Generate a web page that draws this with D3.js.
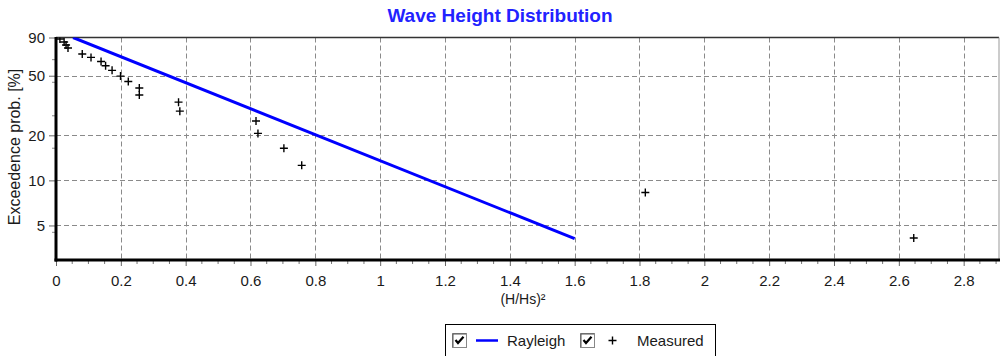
<!DOCTYPE html>
<html>
<head>
<meta charset="utf-8">
<script src="https://cdn.jsdelivr.net/npm/d3@7"></script>
<style>
  html, body { margin: 0; padding: 0; background: #fff; }
  svg { display: block; font-family: "Liberation Sans", Arial, sans-serif; }
</style>
</head>
<body>
<svg id="chart" width="1000" height="356"></svg>
<script>
// Measured exceedance points: x = (H/Hs)^2, y = exceedance probability [%]
const measuredX = [0.012, 0.025, 0.031, 0.037, 0.081, 0.108, 0.139, 0.153, 0.173, 0.199,
                   0.223, 0.257, 0.257, 0.378, 0.382, 0.617, 0.623, 0.703, 0.758, 1.818, 2.646];
const measuredP = [87.9, 84.0, 80.2, 76.6, 69.8, 66.3, 62.2, 58.3, 54.3, 49.7,
                   45.7, 41.4, 37.2, 33.3, 29.0, 24.9, 20.6, 16.4, 12.6, 8.3, 4.12];

// Rayleigh reference line (straight on the log-probability axis)
const rayleighX = [0.0527, 1.6];
const rayleighP = [90, 4.08];

// Axis ticks
const xTicks = [0, 0.2, 0.4, 0.6, 0.8, 1, 1.2, 1.4, 1.6, 1.8, 2, 2.2, 2.4, 2.6, 2.8];
const yTicks = [90, 50, 20, 10, 5];
const yMinorTicks = [64, 45.2, 27, 16.4, 4.5];

const svg = d3.select("#chart");
const plotL = 56, plotR = 999, plotT = 37.5, plotB = 260;

const x = d3.scaleLinear().domain([0, 2.909]).range([plotL, plotR]);
const y = d3.scaleLog().domain([2.94, 90]).range([plotB, plotT]);

// Title
svg.append("text")
  .attr("x", 500).attr("y", 22)
  .attr("text-anchor", "middle")
  .attr("font-size", 19).attr("font-weight", "bold")
  .attr("fill", "#2222ff")
  .text("Wave Height Distribution");

// Grid
const grid = svg.append("g").attr("stroke", "#8a8a8a").attr("stroke-width", 1)
  .attr("stroke-dasharray", "5,3");
grid.selectAll("line.v").data(xTicks.filter(d => d > 0)).join("line")
  .attr("x1", d => Math.round(x(d)) + 0.5).attr("x2", d => Math.round(x(d)) + 0.5)
  .attr("y1", plotT).attr("y2", plotB);
grid.selectAll("line.h").data(yTicks.filter(d => d < 90)).join("line")
  .attr("x1", plotL).attr("x2", plotR)
  .attr("y1", d => Math.round(y(d)) + 0.5).attr("y2", d => Math.round(y(d)) + 0.5);

// Frame: thin top/right border
svg.append("line").attr("x1", plotL).attr("x2", plotR).attr("y1", plotT).attr("y2", plotT)
  .attr("stroke", "#333").attr("stroke-width", 1.5);
svg.append("line").attr("x1", plotR).attr("x2", plotR).attr("y1", plotT).attr("y2", plotB)
  .attr("stroke", "#999").attr("stroke-width", 1);

// Clip for plot marks
svg.append("clipPath").attr("id", "plotClip").append("rect")
  .attr("x", plotL).attr("y", plotT).attr("width", plotR - plotL).attr("height", plotB - plotT);

// Rayleigh line
const pts = rayleighX.map((d, i) => [d, rayleighP[i]]);
svg.append("path")
  .attr("clip-path", "url(#plotClip)")
  .attr("d", d3.line().x(d => x(d[0])).y(d => y(d[1]))(pts))
  .attr("fill", "none").attr("stroke", "#0000ff").attr("stroke-width", 3);

// Measured points as "+" markers
const meas = measuredX.map((d, i) => [d, measuredP[i]]);
svg.append("g").attr("clip-path", "url(#plotClip)")
  .selectAll("path").data(meas).join("path")
  .attr("transform", d => `translate(${x(d[0])},${y(d[1])})`)
  .attr("d", "M-4,0H4M0,-4V4")
  .attr("stroke", "#000").attr("stroke-width", 1.4).attr("fill", "none");

// X axis
const xAxis = d3.axisBottom(x).tickValues(xTicks).tickSize(6).tickPadding(9)
  .tickFormat(d => d3.format("")(+d.toFixed(1)));
const gx = svg.append("g").attr("transform", `translate(0,${plotB})`).call(xAxis);
gx.select(".domain").remove();
gx.selectAll(".tick line").attr("stroke", "#666");
gx.selectAll(".tick text").attr("font-size", 15).attr("fill", "#1a1a1a")
  .attr("font-family", "Liberation Sans, Arial, sans-serif");
// minor x ticks
const xMinor = d3.range(0, 59).map(i => i * 0.05).filter(v => x(v) <= plotR && Math.abs(v * 5 - Math.round(v * 5)) > 1e-6);
svg.append("g").selectAll("line").data(xMinor).join("line")
  .attr("x1", d => x(d)).attr("x2", d => x(d))
  .attr("y1", plotB).attr("y2", plotB + 4)
  .attr("stroke", "#777");

// Y axis
const yAxis = d3.axisLeft(y).tickValues(yTicks).tickSize(7).tickPadding(4).tickFormat(d3.format("d"));
const gy = svg.append("g").attr("transform", `translate(${plotL},0)`).call(yAxis);
gy.select(".domain").remove();
gy.selectAll(".tick line").attr("stroke", "#666");
gy.selectAll(".tick text").attr("font-size", 15).attr("fill", "#1a1a1a")
  .attr("font-family", "Liberation Sans, Arial, sans-serif");
svg.append("g").selectAll("line").data(yMinorTicks).join("line")
  .attr("x1", plotL - 4).attr("x2", plotL)
  .attr("y1", d => y(d)).attr("y2", d => y(d))
  .attr("stroke", "#888");

// Heavy axis lines
svg.append("line").attr("x1", plotL).attr("x2", plotL).attr("y1", plotT - 0.5).attr("y2", plotB + 1.5)
  .attr("stroke", "#000").attr("stroke-width", 3);
svg.append("line").attr("x1", plotL - 1.5).attr("x2", plotR + 1).attr("y1", plotB).attr("y2", plotB)
  .attr("stroke", "#000").attr("stroke-width", 3);

// Axis titles
svg.append("text")
  .attr("transform", `translate(20,147) rotate(-90)`)
  .attr("text-anchor", "middle").attr("font-size", 16).attr("fill", "#1a1a1a")
  .text("Exceedence prob. [%]");
svg.append("text")
  .attr("x", 523).attr("y", 304)
  .attr("text-anchor", "middle").attr("font-size", 14).attr("fill", "#1a1a1a")
  .text("(H/Hs)²");

// Legend
const lg = svg.append("g");
lg.append("rect").attr("x", 445.5).attr("y", 324.5).attr("width", 270).attr("height", 40)
  .attr("fill", "#fff").attr("stroke", "#000").attr("stroke-width", 1);

function checkbox(g, cx) {
  const b = g.append("g").attr("transform", `translate(${cx},333)`);
  b.append("rect").attr("x", 0.5).attr("y", 0.5).attr("width", 14).attr("height", 14)
    .attr("fill", "#fff").attr("stroke", "#888");
  b.append("path").attr("d", "M1,1H14M1,1V14").attr("stroke", "#555").attr("fill", "none");
  b.append("path").attr("d", "M3.5,7 L6,10 L11.5,3.8")
    .attr("stroke", "#000").attr("stroke-width", 2.2).attr("fill", "none");
}
checkbox(lg, 452);
lg.append("line").attr("x1", 476).attr("x2", 498).attr("y1", 340.5).attr("y2", 340.5)
  .attr("stroke", "#0000ff").attr("stroke-width", 2.5);
lg.append("text").attr("x", 507).attr("y", 346).attr("font-size", 15).attr("fill", "#1a1a1a").text("Rayleigh");
checkbox(lg, 580);
lg.append("path").attr("d", "M608.5,340.5H616.5M612.5,336.5V344.5").attr("stroke", "#000").attr("stroke-width", 1.4);
lg.append("text").attr("x", 637).attr("y", 346).attr("font-size", 15).attr("fill", "#1a1a1a").text("Measured");
</script>
</body>
</html>
